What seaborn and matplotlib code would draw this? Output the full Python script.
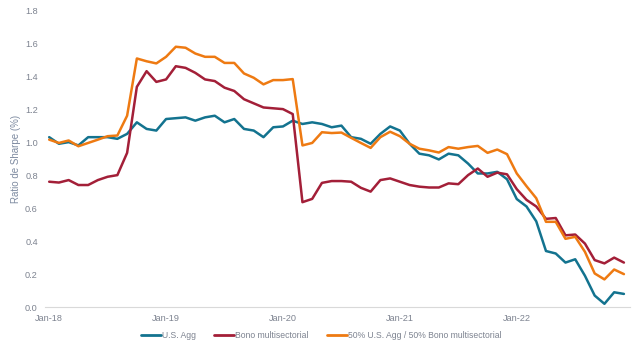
import numpy as np
import pandas as pd
import matplotlib
matplotlib.use("Agg")
import matplotlib.pyplot as plt
import seaborn as sns

months = pd.date_range("2018-01-01", periods=60, freq="MS")
us_agg = [1.03, 0.99, 1.00, 0.98, 1.03, 1.03, 1.03, 1.02, 1.05, 1.12, 1.08, 1.07,
          1.14, 1.145, 1.15, 1.13, 1.15, 1.16, 1.12, 1.14, 1.08, 1.07, 1.03, 1.09,
          1.095, 1.13, 1.11, 1.12, 1.11, 1.09, 1.10, 1.03, 1.02, 0.99, 1.05, 1.095,
          1.07, 0.99, 0.93, 0.92, 0.895, 0.93, 0.92, 0.87, 0.81, 0.81, 0.82, 0.775,
          0.655, 0.61, 0.52, 0.34, 0.325, 0.27, 0.29, 0.19, 0.07, 0.02, 0.09, 0.08]
bono = [0.76, 0.755, 0.77, 0.74, 0.74, 0.77, 0.79, 0.80, 0.935, 1.335, 1.43, 1.365,
        1.38, 1.46, 1.45, 1.42, 1.38, 1.37, 1.33, 1.31, 1.26, 1.235, 1.21, 1.205,
        1.20, 1.17, 0.636, 0.656, 0.753, 0.764, 0.764, 0.76, 0.723, 0.70, 0.77, 0.78,
        0.76, 0.74, 0.73, 0.725, 0.725, 0.75, 0.745, 0.80, 0.84, 0.79, 0.815, 0.805,
        0.715, 0.65, 0.61, 0.535, 0.54, 0.435, 0.44, 0.385, 0.285, 0.265, 0.30, 0.27]
mix = [1.015, 0.995, 1.01, 0.975, 0.995, 1.015, 1.036, 1.04, 1.16, 1.507, 1.49, 1.477,
       1.517, 1.578, 1.572, 1.537, 1.517, 1.517, 1.48, 1.48, 1.416, 1.39, 1.35, 1.376,
       1.376, 1.382, 0.98, 0.995, 1.06, 1.055, 1.058, 1.026, 0.995, 0.965, 1.03, 1.063,
       1.036, 0.99, 0.96, 0.95, 0.937, 0.97, 0.96, 0.97, 0.977, 0.935, 0.955, 0.927,
       0.81, 0.733, 0.66, 0.517, 0.517, 0.414, 0.426, 0.335, 0.204, 0.168, 0.228, 0.20]
series_names = ["U.S. Agg", "Bono multisectorial", "50% U.S. Agg / 50% Bono multisectorial"]
tick_labels = ["Jan-18", "Jan-19", "Jan-20", "Jan-21", "Jan-22"]
y_ticks = [0.0, 0.2, 0.4, 0.6, 0.8, 1.0, 1.2, 1.4, 1.6, 1.8]

idx = np.arange(len(months))
df = pd.DataFrame({
    "t": np.concatenate([idx, idx, idx]),
    "v": us_agg + bono + mix,
    "s": [series_names[0]] * 60 + [series_names[1]] * 60 + [series_names[2]] * 60,
})

sns.set_style("white")
plt.rcParams["font.family"] = ["Liberation Sans", "DejaVu Sans"]

fig = plt.figure(figsize=(6.4, 3.49), dpi=100)
ax = fig.add_axes([0.070, 0.120, 0.914, 0.851])
palette = {series_names[0]: "#13738f", series_names[1]: "#a31f38", series_names[2]: "#ee7a12"}
sns.lineplot(data=df, x="t", y="v", hue="s", palette=palette, linewidth=1.8, ax=ax, legend=True)

ax.set_xlim(-0.45, 59.6)
ax.set_ylim(0, 1.8)
ax.set_yticks(y_ticks)
ax.set_yticklabels([f"{t:.1f}" for t in y_ticks])
ax.set_xticks([0, 12, 24, 36, 48])
ax.set_xticklabels(tick_labels)
tc = "#7d8390"
ax.tick_params(axis="both", labelsize=6.6, colors=tc, length=0, pad=5)
ax.set_xlabel("")
ax.set_ylabel("Ratio de Sharpe (%)", fontsize=7.0, color="#7d8aa0", labelpad=3)
for s in ["top", "right", "left"]:
    ax.spines[s].set_visible(False)
ax.spines["bottom"].set_color("#d9d9d9")
ax.spines["bottom"].set_linewidth(0.8)
ax.grid(False)

handles, labels = ax.get_legend_handles_labels()
ax.legend_.remove()
leg = fig.legend(handles, labels, loc="center", bbox_to_anchor=(0.502, 0.04), ncol=3,
                 frameon=False, fontsize=6.2, handlelength=2.3, handletextpad=0.15,
                 columnspacing=2.1, labelcolor=tc)
for h in leg.get_lines():
    h.set_linewidth(2)

fig.savefig("out.png", dpi=100)
